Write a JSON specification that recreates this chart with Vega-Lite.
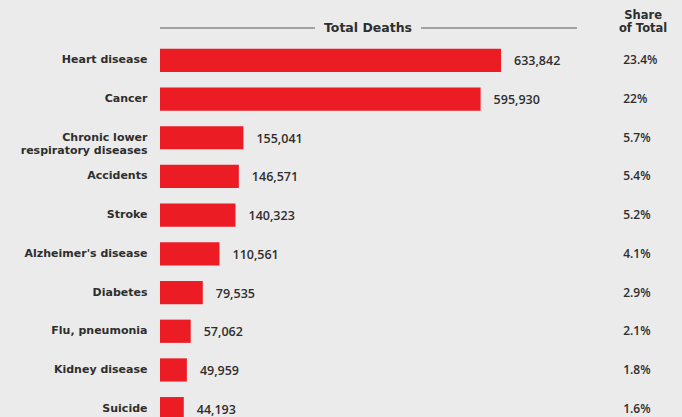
{
  "$schema": "https://vega.github.io/schema/vega-lite/v6.json",
  "width": 522,
  "height": 376,
  "autosize": "none",
  "padding": {"left": 160, "top": 41, "right": 0, "bottom": 0},
  "background": "#ebebeb",
  "config": {"view": {"stroke": null}, "font": "Open Sans"},
  "datasets": {
    "causes": [
      {"cause": "Heart disease", "deaths": 633842, "share": 0.234},
      {"cause": "Cancer", "deaths": 595930, "share": 0.22},
      {"cause": "Chronic lower|respiratory diseases", "deaths": 155041, "share": 0.057},
      {"cause": "Accidents", "deaths": 146571, "share": 0.054},
      {"cause": "Stroke", "deaths": 140323, "share": 0.052},
      {"cause": "Alzheimer's disease", "deaths": 110561, "share": 0.041},
      {"cause": "Diabetes", "deaths": 79535, "share": 0.029},
      {"cause": "Flu, pneumonia", "deaths": 57062, "share": 0.021},
      {"cause": "Kidney disease", "deaths": 49959, "share": 0.018},
      {"cause": "Suicide", "deaths": 44193, "share": 0.016}
    ],
    "headerLines": [
      {"start": 0, "end": 288100},
      {"start": 485200, "end": 775100}
    ],
    "deathsHeader": [
      {"label": "Total Deaths", "pos": 386600}
    ],
    "shareHeader": [
      {"label": "Share|of Total", "pos": 898000}
    ]
  },
  "layer": [
    {
      "data": {"name": "causes"},
      "mark": {"type": "bar", "color": "#ec1c24"},
      "encoding": {
        "y": {
          "field": "cause", "type": "nominal", "sort": null,
          "scale": {"range": [0, 387], "paddingInner": 0.4, "paddingOuter": 0.2},
          "axis": {
            "title": null, "ticks": false, "domain": false, "labelPadding": 13,
            "labelFontSize": 11, "labelFont": "DejaVu Sans", "labelFontWeight": "bold",
            "labelColor": "#2e2e2e", "labelLimit": 200, "labelLineHeight": 13.5,
            "labelExpr": "split(datum.label, '|')"
          }
        },
        "x": {
          "field": "deaths", "type": "quantitative",
          "scale": {"domain": [0, 970300], "nice": false, "zero": true},
          "axis": null
        }
      }
    },
    {
      "data": {"name": "causes"},
      "mark": {"type": "text", "align": "left", "baseline": "middle", "dx": 13, "dy": 1, "fontSize": 12.5, "fontWeight": 600, "color": "#2e2e2e"},
      "encoding": {
        "y": {"field": "cause", "type": "nominal", "sort": null},
        "x": {"field": "deaths", "type": "quantitative"},
        "text": {"field": "deaths", "type": "quantitative", "format": ","}
      }
    },
    {
      "data": {"name": "causes"},
      "mark": {"type": "text", "align": "left", "baseline": "middle", "fontSize": 12, "fontWeight": 600, "color": "#2e2e2e"},
      "encoding": {
        "y": {"field": "cause", "type": "nominal", "sort": null},
        "x": {"datum": 861000, "type": "quantitative"},
        "text": {"field": "share", "type": "quantitative", "format": ".1~%"}
      }
    },
    {
      "data": {"name": "headerLines"},
      "mark": {"type": "rule", "color": "#8a8a8a", "strokeWidth": 1.5, "y": -13},
      "encoding": {
        "x": {"field": "start", "type": "quantitative"},
        "x2": {"field": "end"}
      }
    },
    {
      "data": {"name": "deathsHeader"},
      "mark": {"type": "text", "align": "center", "baseline": "middle", "font": "DejaVu Sans", "fontSize": 12.5, "fontWeight": "bold", "color": "#2e2e2e", "y": -13.5},
      "encoding": {
        "x": {"field": "pos", "type": "quantitative"},
        "text": {"field": "label", "type": "nominal"}
      }
    },
    {
      "data": {"name": "shareHeader"},
      "mark": {"type": "text", "align": "center", "baseline": "middle", "font": "DejaVu Sans", "fontSize": 11.5, "fontWeight": "bold", "color": "#2e2e2e", "lineHeight": 13, "lineBreak": "|", "y": -25},
      "encoding": {
        "x": {"field": "pos", "type": "quantitative"},
        "text": {"field": "label", "type": "nominal"}
      }
    }
  ]
}
